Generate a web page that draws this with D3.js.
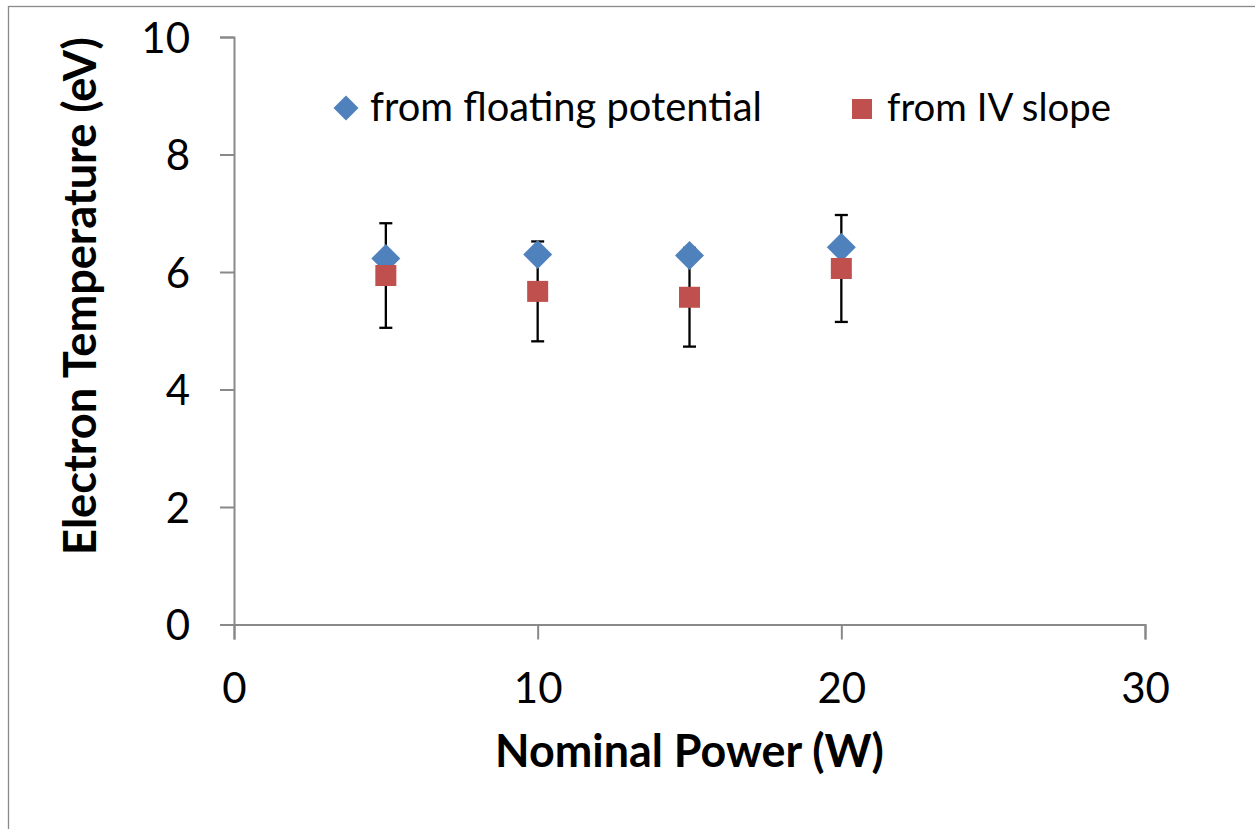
<!DOCTYPE html>
<html><head><meta charset="utf-8">
<script src="https://cdn.jsdelivr.net/npm/d3@7"></script>
<style>
html,body{margin:0;padding:0;background:#fff;}
svg{display:block;font-family:Lato,"Open Sans",sans-serif;}
</style></head>
<body>
<svg id="chart" width="1255" height="829"></svg>
<script>
// ---- data ----
const power = [5, 10, 15, 20];
const floatingTe = [6.23, 6.30, 6.28, 6.42];
const ivSlopeTe = [5.94, 5.67, 5.57, 6.06];
const ivSlopeErr = [0.89, 0.85, 0.84, 0.91];
const xTicks = [0, 10, 20, 30];
const yTicks = [0, 2, 4, 6, 8, 10];
const seriesNames = ["from floating potential", "from IV slope"];
const xTitle = "Nominal Power (W)";
const yTitle = "Electron Temperature (eV)";

const blue = "#4F81BD", red = "#C0504D", axisGray = "#898989";
const svg = d3.select("#chart");

// outer frame
svg.append("rect").attr("x", 8.5).attr("y", 6.5).attr("width", 1400).attr("height", 1000)
  .attr("fill", "none").attr("stroke", "#8a8a8a").attr("stroke-width", 1.3);

const plot = {left: 234, right: 1145, top: 37, bottom: 624.5};
const x = d3.scaleLinear().domain([0, 30]).range([plot.left, plot.right]);
const y = d3.scaleLinear().domain([0, 10]).range([plot.bottom, plot.top]);

// axes
const xAxis = svg.append("g").attr("transform", `translate(0,${plot.bottom})`)
  .call(d3.axisBottom(x).tickValues(xTicks).tickSize(15).tickPadding(14).tickFormat(d3.format("d")));
const yAxis = svg.append("g").attr("transform", `translate(${plot.left},0)`)
  .call(d3.axisLeft(y).tickValues(yTicks).tickSize(14).tickPadding(30).tickFormat(d3.format("d")));
[xAxis, yAxis].forEach(g => {
  g.select(".domain").attr("stroke", axisGray).attr("stroke-width", 2);
  g.selectAll(".tick line").attr("stroke", axisGray).attr("stroke-width", 2);
  g.selectAll(".tick text").attr("fill", "#000").style("font-size", "42px")
    .style("font-family", "Lato, 'Open Sans', sans-serif");
});
xAxis.selectAll(".tick text").attr("dy", null).attr("y", 0)
  .attr("transform", "translate(0,78)");
yAxis.selectAll(".tick text").attr("dy", "0.36em");

// helper to fit text to width
function fit(sel, w) {
  const len = sel.node().getComputedTextLength();
  const fs = parseFloat(sel.style("font-size"));
  sel.style("font-size", (fs * w / len) + "px");
}

// axis titles
const xt = svg.append("text").attr("x", 689.5).attr("y", 767).attr("text-anchor", "middle")
  .style("font-weight", "bold").style("font-size", "36px").text(xTitle);
fit(xt, 389);
const yt = svg.append("text").attr("transform", "translate(96,296) rotate(-90)")
  .attr("text-anchor", "middle").style("font-weight", "bold").style("font-size", "36px").text(yTitle);
fit(yt, 518);

// error bars (IV slope series)
const capW = 13;
const eb = svg.append("g").attr("stroke", "#000").attr("stroke-width", 2.3);
power.forEach((p, i) => {
  const cx = x(p), y1 = y(ivSlopeTe[i] + ivSlopeErr[i]), y2 = y(ivSlopeTe[i] - ivSlopeErr[i]);
  eb.append("line").attr("x1", cx).attr("x2", cx).attr("y1", y1).attr("y2", y2);
  eb.append("line").attr("x1", cx - capW / 2).attr("x2", cx + capW / 2).attr("y1", y1).attr("y2", y1);
  eb.append("line").attr("x1", cx - capW / 2).attr("x2", cx + capW / 2).attr("y1", y2).attr("y2", y2);
});

// markers
const dHalf = 14.5, sq = 21;
const diamond = (cx, cy, h) => `M${cx},${cy - h}L${cx + h},${cy}L${cx},${cy + h}L${cx - h},${cy}Z`;
svg.append("g").selectAll("path").data(power).join("path")
  .attr("d", (p, i) => diamond(x(p), y(floatingTe[i]), dHalf)).attr("fill", blue);
svg.append("g").selectAll("rect").data(power).join("rect")
  .attr("x", p => x(p) - sq / 2).attr("y", (p, i) => y(ivSlopeTe[i]) - sq / 2)
  .attr("width", sq).attr("height", sq).attr("fill", red);

// legend
const lg = svg.append("g");
lg.append("path").attr("d", diamond(346, 108, 12.5)).attr("fill", blue);
const l1 = lg.append("text").attr("x", 370).attr("y", 121).style("font-size", "36px").text(seriesNames[0]);
fit(l1, 392);
lg.append("rect").attr("x", 852).attr("y", 99).attr("width", 20).attr("height", 20).attr("fill", red);
const l2 = lg.append("text").attr("x", 887).attr("y", 121).style("font-size", "36px").text(seriesNames[1]);
fit(l2, 224);
</script>
</body></html>
